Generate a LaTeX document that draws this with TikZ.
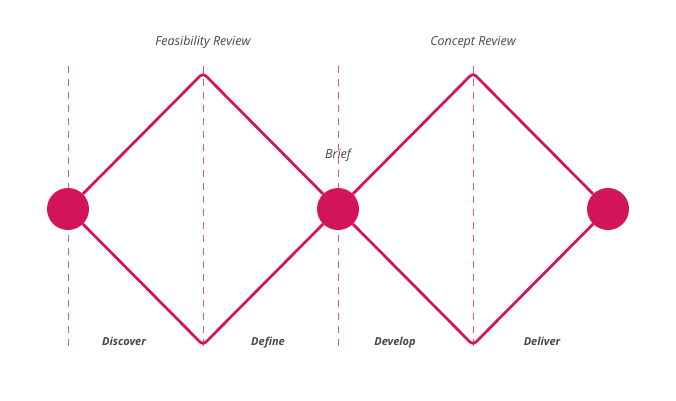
\documentclass[tikz,border=0pt]{standalone}
\usepackage{fontspec}
\setmainfont{Open Sans}
\usetikzlibrary{positioning,calc}
\definecolor{crimson}{RGB}{212,20,90}
\definecolor{txtgray}{RGB}{70,70,70}

\begin{document}
\begin{tikzpicture}[x=1pt,y=-1pt,
    hub/.style={circle,fill=crimson,minimum size=42pt,inner sep=0pt},
    wire/.style={draw=crimson,line width=2.7pt,rounded corners=4pt},
    guide/.style={draw=crimson!70,dash pattern=on 7pt off 6pt,line width=1pt},
    review/.style={anchor=base,font=\itshape\fontsize{12.5}{14}\selectfont,text=txtgray},
    phase/.style={anchor=base,font=\bfseries\itshape\fontsize{11}{13}\selectfont,text=txtgray}]
    \useasboundingbox (0,0) rectangle (676,400);
    % dashed guides
    \foreach \gx in {68,203,338,473}
        \draw[guide] (\gx,66) -- (\gx,346);
    % hubs and corners
    \node[hub] (start) at (68,209) {};
    \node[hub] (mid) at (338,209) {};
    \node[hub] (finish) at (608,209) {};
    \coordinate (topA) at (203,73);
    \coordinate (botA) at (203,345);
    \coordinate (topB) at (473,73);
    \coordinate (botB) at (473,345);
    % diamonds
    \draw[wire] (start) -- (topA) -- (mid);
    \draw[wire] (start) -- (botA) -- (mid);
    \draw[wire] (mid) -- (topB) -- (finish);
    \draw[wire] (mid) -- (botB) -- (finish);
    % labels
    \node[review] (feas) at (203,45) {Feasibility Review};
    \node[review] (concept) at (473,45) {Concept Review};
    \node[review] (brief) at (338,158) {Brief};
    \node[phase] (discover) at (124,345) {Discover};
    \node[phase] (define) at (268,345) {Define};
    \node[phase] (develop) at (395,345) {Develop};
    \node[phase] (deliver) at (542,345) {Deliver};
\end{tikzpicture}
\end{document}
